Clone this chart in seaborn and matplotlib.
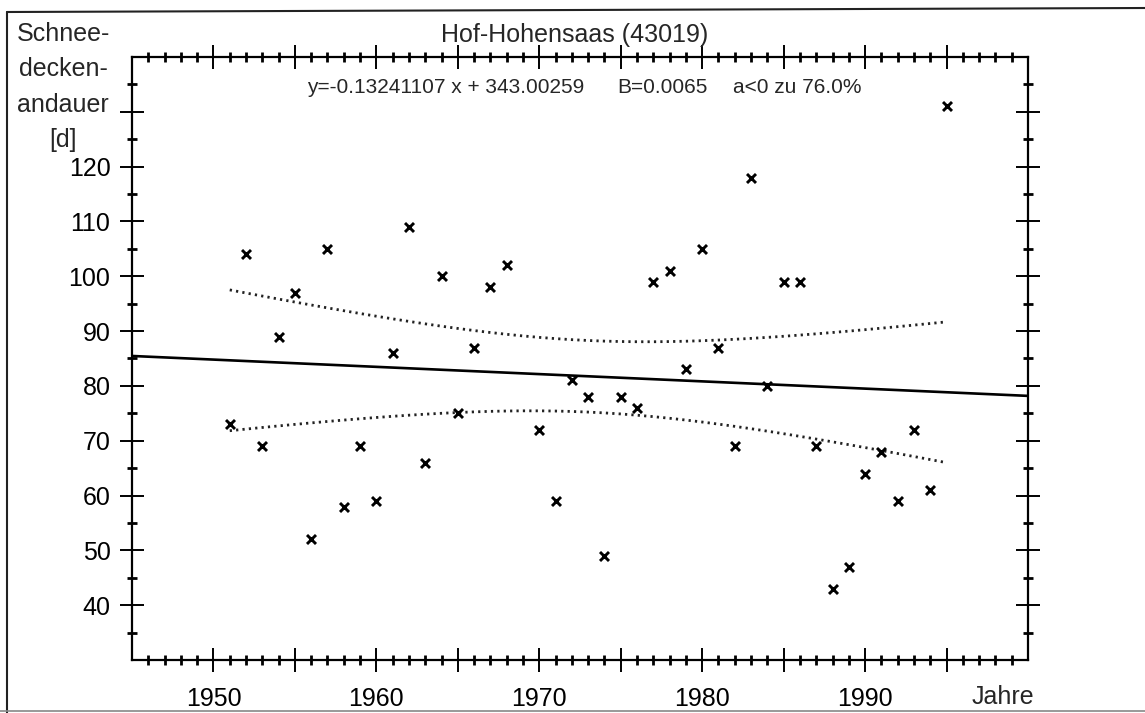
import numpy as np
import pandas as pd
import matplotlib
matplotlib.use("Agg")
import matplotlib.pyplot as plt
from matplotlib.lines import Line2D
from matplotlib.ticker import FixedLocator
import seaborn as sns

# Snow-cover duration (days) per winter, station Hof-Hohensaas (43019)
years = list(range(1951, 1996))
snow_days = [73, 104, 69, 89, 97, 52, 105, 58, 69, 59,
             86, 109, 66, 100, 75, 87, 98, 102, 134, 72,
             59, 81, 78, 49, 78, 76, 99, 101, 83, 105,
             87, 69, 118, 80, 99, 99, 69, 43, 47, 64,
             68, 59, 72, 61, 131]

# Linear trend as printed on the chart
slope = -0.13241107
intercept = 343.00259
t_95 = 2.0167  # Student t, 95 %, n-2 = 43 degrees of freedom

x_ticks_major = [1950, 1955, 1960, 1965, 1970, 1975, 1980, 1985, 1990, 1995]
x_labels = ["1950", "1960", "1970", "1980", "1990"]
y_ticks_major = [40, 50, 60, 70, 80, 90, 100, 110, 120, 130]
y_labels = ["40", "50", "60", "70", "80", "90", "100", "110", "120"]
ylabel_lines = ["Schnee-", "decken-", "andauer", "[d]"]
title = "Hof-Hohensaas (43019)"
eq_text = "y=-0.13241107 x + 343.00259"
b_text = "B=0.0065"
a_text = "a<0 zu 76.0%"

df = pd.DataFrame({"Jahr": years, "Tage": snow_days})

# Trend line over the full axis range and 95 % confidence band of the mean
x_arr = np.array(years, dtype=float)
y_arr = np.array(snow_days, dtype=float)
fit = intercept + slope * x_arr
n = len(x_arr)
s = np.sqrt(np.sum((y_arr - fit) ** 2) / (n - 2))
sxx = np.sum((x_arr - x_arr.mean()) ** 2)
half = t_95 * s * np.sqrt(1.0 / n + (x_arr - x_arr.mean()) ** 2 / sxx)
band = pd.DataFrame({"Jahr": x_arr, "oben": fit + half, "unten": fit - half})
trend = pd.DataFrame({"Jahr": [1945.0, 2000.0]})
trend["Tage"] = intercept + slope * trend["Jahr"]

sns.set_theme(style="white")
plt.rcParams["font.family"] = ["Liberation Sans", "DejaVu Sans"]

W, H = 1145, 713
fig = plt.figure(figsize=(W / 100, H / 100), dpi=100)
ax = fig.add_axes([132 / W, 1 - 660 / H, (1028 - 132) / W, (660 - 57) / H])

sns.lineplot(data=trend, x="Jahr", y="Tage", color="black", linewidth=1.9,
             ax=ax, errorbar=None)
for col in ["oben", "unten"]:
    sns.lineplot(data=band, x="Jahr", y=col, color="#222222", linewidth=2.0,
                 linestyle=(0, (0.8, 1.5)), ax=ax, errorbar=None)
sns.scatterplot(data=df, x="Jahr", y="Tage", marker="x", s=42, color="black",
                linewidth=2.1, ax=ax, zorder=3)

ax.set_xlim(1945, 2000)
ax.set_ylim(30, 140)
ax.set_xlabel("")
ax.set_ylabel("")

ax.xaxis.set_major_locator(FixedLocator(x_ticks_major))
ax.set_xticklabels([str(t) if str(t) in x_labels else "" for t in x_ticks_major])
ax.xaxis.set_minor_locator(FixedLocator(list(range(1946, 2000))))
ax.yaxis.set_major_locator(FixedLocator(y_ticks_major))
ax.set_yticklabels([str(t) if str(t) in y_labels else "" for t in y_ticks_major])
ax.yaxis.set_minor_locator(FixedLocator(list(range(35, 140, 10))))

ax.tick_params(which="both", direction="inout", top=True, right=True,
               bottom=True, left=True, colors="black", labelsize=18)
ax.tick_params(which="major", length=17, width=1.4)
ax.tick_params(which="minor", length=7, width=2.0)
ax.tick_params(axis="x", which="major", pad=11)
ax.tick_params(axis="y", which="major", pad=7)
for sp in ax.spines.values():
    sp.set_color("black")
    sp.set_linewidth(1.6)

# Headings and annotations
fig.text(575 / W, 1 - 42 / H, title, ha="center", va="baseline", fontsize=18)
for i, line in enumerate(ylabel_lines):
    fig.text(63 / W, 1 - (41 + i * 35.3) / H, line, ha="center",
             va="baseline", fontsize=18)
fig.text(1003 / W, 1 - 697 / H, "Jahre", ha="center", va="center", fontsize=18)

box = dict(facecolor="white", edgecolor="none", pad=1)
for xp, txt in [(307, eq_text), (617, b_text), (733, a_text)]:
    fig.text(xp / W, 1 - 93 / H, txt, ha="left", va="baseline", fontsize=15,
             bbox=box, zorder=5)

# Outer frame of the figure sheet
fig.add_artist(Line2D([7 / W, 1.0], [1 - 12 / H, 1 - 8 / H], color="#222222",
                      linewidth=1.5, transform=fig.transFigure))
fig.add_artist(Line2D([7 / W, 7 / W], [1 - 12 / H, 0.0], color="#222222",
                      linewidth=1.5, transform=fig.transFigure))
fig.add_artist(Line2D([0.0, 1.0], [1 - 711 / H, 1 - 711 / H], color="#888888",
                      linewidth=1.2, transform=fig.transFigure))

fig.savefig("out.png", dpi=100, facecolor="white")
